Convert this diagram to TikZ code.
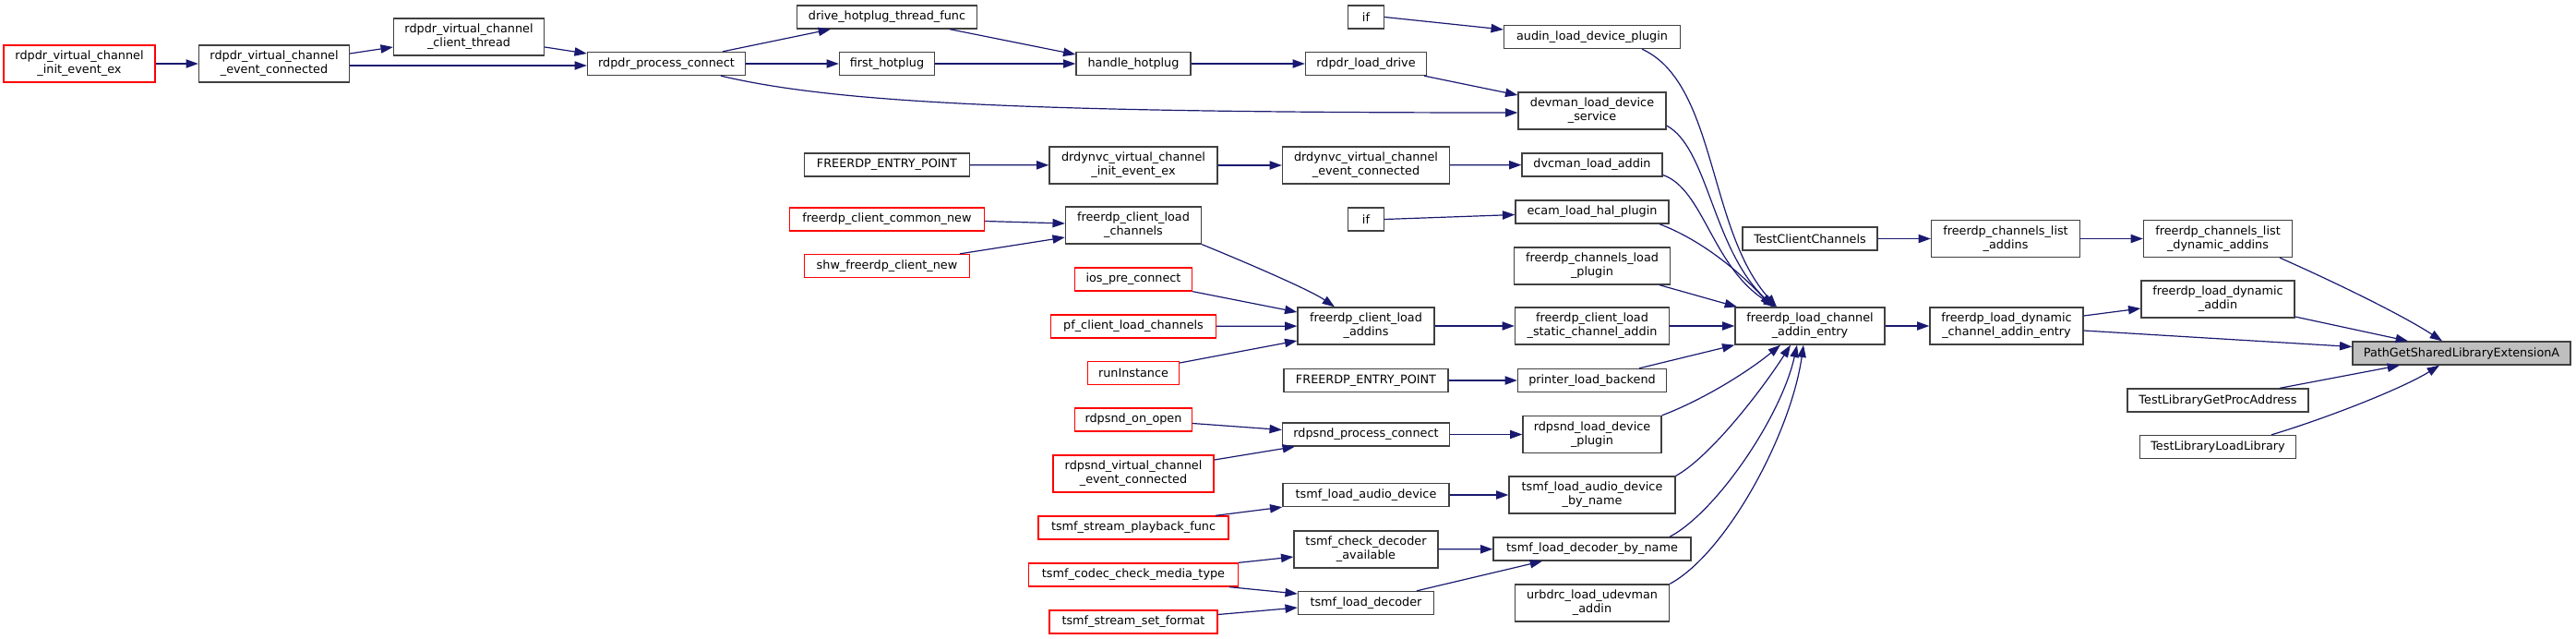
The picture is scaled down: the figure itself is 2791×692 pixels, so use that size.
\documentclass[tikz,border=0pt]{standalone}
\usepackage{fontspec}
\setmainfont{DejaVu Sans}
\usetikzlibrary{arrows.meta}

\newdimen\px \px=0.75pt
\definecolor{edgeblue}{HTML}{191970}
\definecolor{boxgrey}{HTML}{404040}
\definecolor{rootfill}{HTML}{BFBFBF}

\begin{document}
\begin{tikzpicture}[
    x=0.75pt, y=-0.75pt,
    >={Triangle[length=10pt,width=7pt]},
    fn/.style={
        draw=boxgrey,
        line width=1pt,
        fill=white,
        inner sep=0pt,
        align=center,
        font=\fontsize{9.6}{11.25}\selectfont,
        minimum height=25\px,
        minimum width=#1\px
    },
    tall/.style={minimum height=40\px},
    cut/.style={draw=red},
    root/.style={fill=rootfill},
    link/.style={draw=edgeblue, line width=0.9pt},
    every edge/.style={link}
]
\useasboundingbox (0,0) rectangle (2791,692);

% callers, left to right
\node[fn=164, tall, cut] (rdpinit) at (86,69) {rdpdr\_virtual\_channel\\\_init\_event\_ex};
\node[fn=163, tall] (rdpevconn) at (297,69) {rdpdr\_virtual\_channel\\\_event\_connected};
\node[fn=163, tall] (rdpthread) at (508,40) {rdpdr\_virtual\_channel\\\_client\_thread};
\node[fn=171] (rdpconn) at (722,69) {rdpdr\_process\_connect};

\node[fn=195] (hotthread) at (961,18.5) {drive\_hotplug\_thread\_func};
\node[fn=103] (firsthot) at (961,69) {first\_hotplug};
\node[fn=179] (fep1) at (961,178.5) {FREERDP\_ENTRY\_POINT};
\node[fn=211, cut] (commonnew) at (961,237.5) {freerdp\_client\_common\_new};
\node[fn=179, cut] (shwnew) at (961,288) {shw\_freerdp\_client\_new};

\node[fn=124] (handlehot) at (1228,69) {handle\_hotplug};
\node[fn=182, tall] (dvcinit) at (1228,179) {drdynvc\_virtual\_channel\\\_init\_event\_ex};
\node[fn=147, tall] (loadchans) at (1228,244) {freerdp\_client\_load\\\_channels};
\node[fn=127, cut] (iospre) at (1228,302.5) {ios\_pre\_connect};
\node[fn=179, cut] (pfload) at (1228,353.5) {pf\_client\_load\_channels};
\node[fn=99, cut] (runinst) at (1228,404) {runInstance};
\node[fn=127, cut] (sndopen) at (1228,454.5) {rdpsnd\_on\_open};
\node[fn=174, tall, cut] (sndevconn) at (1228,513) {rdpsnd\_virtual\_channel\\\_event\_connected};
\node[fn=206, cut] (playback) at (1228,571.5) {tsmf\_stream\_playback\_func};
\node[fn=227, cut] (mediatype) at (1228,622.5) {tsmf\_codec\_check\_media\_type};
\node[fn=182, cut] (setformat) at (1228,673.5) {tsmf\_stream\_set\_format};

\node[fn=39] (if1) at (1480,18.5) {if};
\node[fn=131] (loaddrive) at (1480,69) {rdpdr\_load\_drive};
\node[fn=181, tall] (dvcevconn) at (1480,179) {drdynvc\_virtual\_channel\\\_event\_connected};
\node[fn=39] (if2) at (1480,237.5) {if};
\node[fn=148, tall] (loadaddins) at (1480,353) {freerdp\_client\_load\\\_addins};
\node[fn=178] (fep2) at (1480,412) {FREERDP\_ENTRY\_POINT};
\node[fn=181] (sndconn) at (1480,470.5) {rdpsnd\_process\_connect};
\node[fn=180] (audiodev) at (1480,536) {tsmf\_load\_audio\_device};
\node[fn=156, tall] (checkdec) at (1480,595) {tsmf\_check\_decoder\\\_available};
\node[fn=147] (loaddec) at (1480,653) {tsmf\_load\_decoder};

\node[fn=191] (audin) at (1725,40) {audin\_load\_device\_plugin};
\node[fn=160, tall] (devman) at (1725,120) {devman\_load\_device\\\_service};
\node[fn=152] (dvcman) at (1725,178.5) {dvcman\_load\_addin};
\node[fn=166] (ecam) at (1725,229.5) {ecam\_load\_hal\_plugin};
\node[fn=169, tall] (chanplugin) at (1725,288) {freerdp\_channels\_load\\\_plugin};
\node[fn=167, tall] (staticaddin) at (1725,353) {freerdp\_client\_load\\\_static\_channel\_addin};
\node[fn=161] (printer) at (1725,412) {printer\_load\_backend};
\node[fn=150, tall] (sndplugin) at (1725,470.5) {rdpsnd\_load\_device\\\_plugin};
\node[fn=180, tall] (audiobyname) at (1725,536) {tsmf\_load\_audio\_device\\\_by\_name};
\node[fn=214] (decbyname) at (1725,594.5) {tsmf\_load\_decoder\_by\_name};
\node[fn=167, tall] (urbdrc) at (1725,653) {urbdrc\_load\_udevman\\\_addin};

\node[fn=146] (testchans) at (1961,258.5) {TestClientChannels};
\node[fn=162, tall] (entry) at (1961,353) {freerdp\_load\_channel\\\_addin\_entry};
\node[fn=161, tall] (listaddins) at (2173,258.5) {freerdp\_channels\_list\\\_addins};
\node[fn=166, tall] (dynentry) at (2174,353) {freerdp\_load\_dynamic\\\_channel\_addin\_entry};
\node[fn=161, tall] (listdyn) at (2403,258.5) {freerdp\_channels\_list\\\_dynamic\_addins};
\node[fn=166, tall] (dynaddin) at (2403,324) {freerdp\_load\_dynamic\\\_addin};
\node[fn=196] (getproc) at (2403,433.5) {TestLibraryGetProcAddress};
\node[fn=169] (loadlib) at (2403,484) {TestLibraryLoadLibrary};

% the function itself
\node[fn=236, root] (pathext) at (2667,382.5) {PathGetSharedLibraryExtensionA};

\path[->]
    (rdpinit) edge (rdpevconn)
    ([yshift=11\px]rdpevconn.east) edge ([yshift=-11\px]rdpthread.west)
    ([yshift=-2\px]rdpevconn.east) edge ([yshift=-2\px]rdpconn.west)
    ([yshift=-11\px]rdpthread.east) edge ([yshift=11\px]rdpconn.west)
    ([xshift=61\px]rdpconn.north) edge ([xshift=-61\px]hotthread.south)
    (rdpconn) edge (firsthot)
    ([xshift=68\px]hotthread.south) edge ([yshift=10\px]handlehot.west)
    (firsthot) edge (handlehot)
    (handlehot) edge (loaddrive)
    ([xshift=63\px]loaddrive.south) edge ([yshift=17\px]devman.west)
    (if1.east) edge ([yshift=8\px]audin.west)
    (fep1) edge (dvcinit)
    (dvcinit) edge (dvcevconn)
    (dvcevconn) edge (dvcman)
    (if2.east) edge ([yshift=-3\px]ecam.west)
    ([yshift=-2\px]commonnew.east) edge ([yshift=2\px]loadchans.west)
    ([xshift=79\px]shwnew.north) edge ([yshift=-13\px]loadchans.west)
    (iospre.south east) edge ([yshift=15\px]loadaddins.west)
    (pfload) edge (loadaddins)
    ([yshift=11\px]runinst.east) edge ([yshift=-16\px]loadaddins.west)
    (loadaddins) edge (staticaddin)
    (staticaddin) edge (entry)
    ([xshift=73\px]chanplugin.south) edge ([xshift=-79\px]entry.north)
    (fep2) edge (printer)
    ([xshift=51\px]printer.north) edge (entry.south west)
    ([yshift=-4\px]sndopen.east) edge ([yshift=5\px]sndconn.west)
    ([yshift=15\px]sndevconn.east) edge ([xshift=-77\px]sndconn.south)
    (sndconn) edge (sndplugin)
    (audiodev) edge (audiobyname)
    ([xshift=89\px]playback.north) edge (audiodev.south west)
    (checkdec) edge (decbyname)
    (mediatype.north east) edge ([yshift=-8\px]checkdec.west)
    ([xshift=104\px]mediatype.south) edge ([yshift=10\px]loaddec.west)
    ([yshift=8\px]setformat.east) edge ([yshift=-5\px]loaddec.west)
    ([xshift=55\px]loaddec.north) edge ([xshift=-54\px]decbyname.south)
    (testchans) edge (listaddins)
    (listaddins) edge (listdyn)
    (entry) edge (dynentry)
    ([yshift=11\px]dynentry.east) edge ([yshift=-10\px]dynaddin.west)
    ([yshift=-19\px]dynaddin.east) edge ([xshift=-58\px]pathext.north)
    ([yshift=-5\px]dynentry.east) edge ([yshift=7\px]pathext.west)
    ([xshift=67\px]getproc.north) edge ([xshift=-67\px]pathext.south);

% curved calls
\draw[link,->] ([xshift=59\px]rdpconn.south) .. controls +(119,28) and +(-545,0) .. ([yshift=-2\px]devman.west);
\draw[link,->] (loadchans.south east) .. controls +(49,20) and +(-26,-18) .. ([xshift=-34\px]loadaddins.north);
\draw[link,->] ([xshift=54\px]audin.south) .. controls +(81,37) and +(-75,-83) .. ([xshift=-36\px]entry.north);
\draw[link,->] ([yshift=-16\px]devman.east) .. controls +(45,24) and +(-67,-63) .. ([xshift=-39\px]entry.north);
\draw[link,->] ([yshift=-11\px]dvcman.east) .. controls +(44,15) and +(-69,-43) .. ([xshift=-37\px]entry.north);
\draw[link,->] ([xshift=73\px]ecam.south) .. controls +(42,16) and +(-40,-43) .. ([xshift=-41\px]entry.north);
\draw[link,->] (sndplugin.north east) .. controls +(40,-15) and +(-39,32) .. ([xshift=-32\px]entry.south);
\draw[link,->] (audiobyname.north east) .. controls +(38,-21) and +(-30,47) .. ([xshift=-21\px]entry.south);
\draw[link,->] ([xshift=84\px]decbyname.north) .. controls +(51,-27) and +(-17,77) .. ([xshift=-14\px]entry.south);
\draw[link,->] (urbdrc.north east) .. controls +(61,-33) and +(-14,97) .. ([xshift=-7\px]entry.south);
\draw[link,->] ([xshift=67\px]listdyn.south) .. controls +(50,22) and +(-46,-30) .. ([xshift=-21\px]pathext.north);
\draw[link,->] ([xshift=58\px]loadlib.north) .. controls +(60,-18) and +(-40,25) .. ([xshift=-24\px]pathext.south);

\end{tikzpicture}
\end{document}
